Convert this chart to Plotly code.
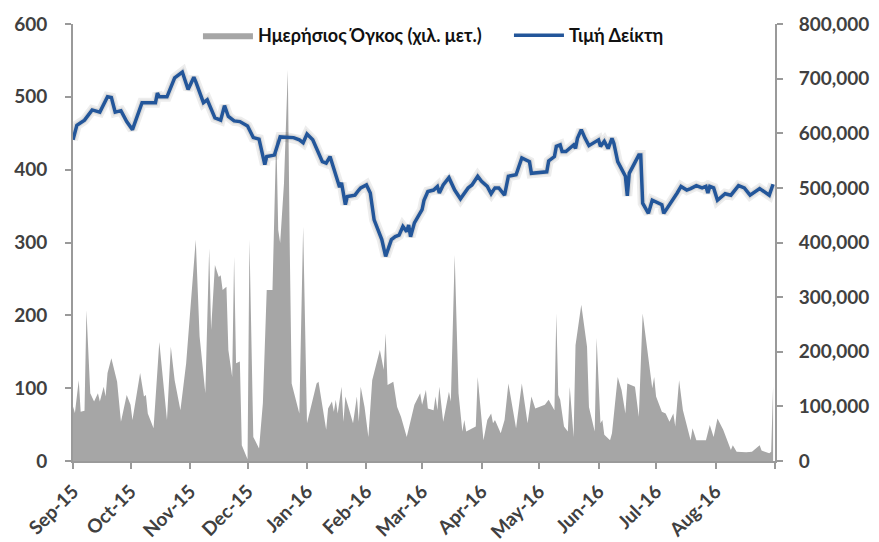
import plotly.graph_objects as go

# ---------------- data ----------------
price_dates = [
    "2015-09-01","2015-09-03","2015-09-07","2015-09-11","2015-09-15","2015-09-19","2015-09-21","2015-09-23",
    "2015-09-26","2015-09-29","2015-10-02","2015-10-07","2015-10-09","2015-10-14","2015-10-15","2015-10-16",
    "2015-10-20","2015-10-24","2015-10-28","2015-10-31","2015-11-03","2015-11-04","2015-11-08","2015-11-10",
    "2015-11-14","2015-11-17","2015-11-19","2015-11-21","2015-11-24","2015-11-27","2015-12-01","2015-12-04",
    "2015-12-07","2015-12-10","2015-12-11","2015-12-15","2015-12-18","2015-12-21","2015-12-25","2015-12-28",
    "2015-12-30","2016-01-01","2016-01-04","2016-01-09","2016-01-11","2016-01-13","2016-01-16","2016-01-18",
    "2016-01-19","2016-01-21","2016-01-22","2016-01-26","2016-01-28","2016-01-29","2016-02-01","2016-02-03",
    "2016-02-05","2016-02-09","2016-02-11","2016-02-14","2016-02-16","2016-02-18","2016-02-20","2016-02-22",
    "2016-02-23","2016-02-24","2016-02-26","2016-02-28","2016-03-01","2016-03-02","2016-03-04","2016-03-07",
    "2016-03-09","2016-03-10","2016-03-12","2016-03-15","2016-03-18","2016-03-21","2016-03-25","2016-03-27",
    "2016-03-30","2016-04-01","2016-04-04","2016-04-06","2016-04-08","2016-04-10","2016-04-13","2016-04-15",
    "2016-04-19","2016-04-22","2016-04-26","2016-04-27","2016-05-05","2016-05-06","2016-05-09","2016-05-10",
    "2016-05-12","2016-05-13","2016-05-15","2016-05-19","2016-05-20","2016-05-21","2016-05-23","2016-05-25",
    "2016-05-27","2016-06-01","2016-06-02","2016-06-04","2016-06-06","2016-06-08","2016-06-09","2016-06-11",
    "2016-06-14","2016-06-15","2016-06-16","2016-06-17","2016-06-22","2016-06-23","2016-06-24","2016-06-27",
    "2016-06-29","2016-07-04","2016-07-05","2016-07-10","2016-07-12","2016-07-14","2016-07-17","2016-07-19",
    "2016-07-22","2016-07-25","2016-07-27","2016-07-28","2016-07-29","2016-07-31","2016-08-02","2016-08-06",
    "2016-08-09","2016-08-13","2016-08-16","2016-08-19","2016-08-24","2016-08-29","2016-08-31",
]
price_values = [
    441, 461, 468, 482, 479, 500, 499, 479,
    481, 466, 455, 492, 492, 492, 505, 500,
    500, 526, 534, 510, 527, 521, 492, 496,
    471, 468, 488, 473, 467, 466, 460, 444,
    442, 407, 418, 420, 445, 445, 444, 441,
    437, 449, 441, 411, 409, 418, 393, 376,
    382, 352, 363, 365, 372, 375, 379, 368,
    331, 304, 281, 304, 308, 310, 322, 315,
    324, 308, 327, 336, 345, 358, 370, 372,
    377, 368, 379, 389, 372, 360, 375, 379,
    391, 384, 377, 367, 375, 375, 365, 391,
    393, 416, 411, 395, 397, 412, 418, 432,
    434, 425, 425, 434, 429, 443, 455, 443,
    433, 441, 432, 439, 429, 443, 436, 411,
    395, 391, 364, 395, 420, 420, 354, 340,
    358, 352, 340, 359, 368, 377, 372, 374,
    378, 375, 377, 368, 377, 375, 358, 367,
    365, 378, 375, 365, 374, 365, 380,
]

volume_dates = [
    "2015-09-01","2015-09-02","2015-09-04","2015-09-05","2015-09-07","2015-09-08","2015-09-10","2015-09-12",
    "2015-09-14","2015-09-15","2015-09-17","2015-09-18","2015-09-19","2015-09-21","2015-09-24","2015-09-26",
    "2015-09-29","2015-10-01","2015-10-02","2015-10-06","2015-10-08","2015-10-09","2015-10-10","2015-10-13",
    "2015-10-16","2015-10-20","2015-10-22","2015-10-24","2015-10-27","2015-10-30","2015-11-04","2015-11-06",
    "2015-11-09","2015-11-11","2015-11-12","2015-11-14","2015-11-16","2015-11-17","2015-11-18","2015-11-20",
    "2015-11-21","2015-11-23","2015-11-24","2015-11-25","2015-11-27","2015-11-28","2015-12-01","2015-12-02",
    "2015-12-04","2015-12-07","2015-12-09","2015-12-11","2015-12-14","2015-12-16","2015-12-17","2015-12-18",
    "2015-12-20","2015-12-22","2015-12-23","2015-12-24","2015-12-28","2015-12-30","2016-01-01","2016-01-06",
    "2016-01-07","2016-01-11","2016-01-12","2016-01-14","2016-01-15","2016-01-16","2016-01-17","2016-01-19",
    "2016-01-20","2016-01-21","2016-01-25","2016-01-27","2016-01-28","2016-01-29","2016-01-31","2016-02-02",
    "2016-02-04","2016-02-08","2016-02-10","2016-02-11","2016-02-12","2016-02-15","2016-02-17","2016-02-19",
    "2016-02-22","2016-02-26","2016-02-29","2016-03-01","2016-03-03","2016-03-04","2016-03-07","2016-03-08",
    "2016-03-09","2016-03-10","2016-03-12","2016-03-14","2016-03-15","2016-03-16","2016-03-18","2016-03-20",
    "2016-03-22","2016-03-23","2016-03-24","2016-03-29","2016-03-30","2016-04-02","2016-04-04","2016-04-06",
    "2016-04-07","2016-04-08","2016-04-11","2016-04-13","2016-04-15","2016-04-19","2016-04-22","2016-04-25",
    "2016-04-27","2016-04-29","2016-05-04","2016-05-06","2016-05-09","2016-05-10","2016-05-11","2016-05-12",
    "2016-05-14","2016-05-16","2016-05-17","2016-05-19","2016-05-20","2016-05-23","2016-05-26","2016-05-27",
    "2016-05-30","2016-05-31","2016-06-02","2016-06-03","2016-06-04","2016-06-07","2016-06-08","2016-06-11",
    "2016-06-13","2016-06-15","2016-06-16","2016-06-20","2016-06-22","2016-06-24","2016-06-27","2016-06-29",
    "2016-06-30","2016-07-01","2016-07-04","2016-07-06","2016-07-08","2016-07-10","2016-07-11","2016-07-13",
    "2016-07-15","2016-07-19","2016-07-20","2016-07-22","2016-07-27","2016-07-29","2016-07-31","2016-08-02",
    "2016-08-05","2016-08-09","2016-08-10","2016-08-12","2016-08-17","2016-08-20","2016-08-24","2016-08-25",
    "2016-08-29","2016-08-30","2016-08-31",
]
volume_thousands = [
    100, 88, 148, 90, 92, 276, 124, 109,
    124, 109, 136, 118, 161, 188, 145, 72,
    121, 103, 75, 161, 118, 121, 87, 60,
    218, 75, 209, 148, 93, 179, 405, 228,
    124, 389, 240, 359, 337, 340, 313, 319,
    203, 154, 374, 179, 182, 29, 3, 405,
    44, 23, 106, 313, 313, 600, 423, 399,
    508, 716, 392, 142, 87, 429, 69, 142,
    145, 57, 96, 109, 90, 112, 87, 136,
    72, 118, 69, 118, 72, 136, 99, 44,
    148, 203, 167, 234, 139, 145, 99, 81,
    44, 103, 124, 103, 130, 96, 93, 118,
    93, 136, 72, 112, 127, 109, 377, 124,
    54, 75, 54, 63, 154, 38, 75, 87,
    69, 75, 51, 75, 142, 60, 142, 69,
    118, 96, 103, 112, 93, 270, 121, 112,
    63, 54, 136, 44, 212, 286, 209, 99,
    54, 225, 69, 75, 48, 38, 51, 154,
    130, 87, 142, 136, 81, 270, 188, 133,
    154, 118, 90, 87, 72, 87, 63, 148,
    93, 38, 60, 38, 38, 66, 44, 78,
    57, 20, 29, 17, 16, 17, 29, 19,
    14, 17, 136,
]
volume_values = [v * 1000 for v in volume_thousands]

month_ticks = ["2015-09-01","2015-10-01","2015-11-01","2015-12-01","2016-01-01","2016-02-01",
               "2016-03-01","2016-04-01","2016-05-01","2016-06-01","2016-07-01","2016-08-01","2016-09-01"]
month_labels = ["Sep-15","Oct-15","Nov-15","Dec-15","Jan-16","Feb-16",
                "Mar-16","Apr-16","May-16","Jun-16","Jul-16","Aug-16",""]

left_ticks = [0, 100, 200, 300, 400, 500, 600]
right_ticks = [0, 100000, 200000, 300000, 400000, 500000, 600000, 700000, 800000]

# ---------------- figure ----------------
FONT = "Lato, 'Open Sans', 'Noto Sans', sans-serif"
AXIS_COLOR = "#9a9a9a"
TEXT_COLOR = "#404040"

fig = go.Figure()

fig.add_trace(go.Scatter(
    x=volume_dates, y=volume_values, name="Ημερήσιος Όγκος (χιλ. μετ.)",
    mode="lines", line=dict(width=0, color="#A6A6A6"),
    fill="tozeroy", fillcolor="#A6A6A6", yaxis="y",
))

# soft shadow under the index line
fig.add_trace(go.Scatter(
    x=price_dates, y=price_values, mode="lines", showlegend=False, hoverinfo="skip",
    line=dict(width=10, color="rgba(0,0,0,0.07)"), yaxis="y2",
))
fig.add_trace(go.Scatter(
    x=price_dates, y=price_values, mode="lines", showlegend=False, hoverinfo="skip",
    line=dict(width=6, color="rgba(0,0,0,0.08)"), yaxis="y2",
))

fig.add_trace(go.Scatter(
    x=price_dates, y=price_values, name="Τιμή Δείκτη",
    mode="lines", line=dict(width=3.5, color="#23569A"), yaxis="y2",
))

fig.update_layout(
    width=879, height=542,
    margin=dict(l=73, r=104, t=24, b=81, autoexpand=False),
    paper_bgcolor="white", plot_bgcolor="white",
    font=dict(family=FONT, color=TEXT_COLOR),
    showlegend=True,
    legend=dict(
        orientation="h", x=0.178, xanchor="left", y=1.016, yanchor="top",
        bgcolor="rgba(0,0,0,0)", font=dict(size=18, color="#111111", weight="bold"),
        itemwidth=50, traceorder="normal", entrywidth=246, entrywidthmode="pixels",
    ),
    xaxis=dict(
        type="date", range=["2015-09-01", "2016-09-01"], automargin=False,
        tickmode="array", tickvals=month_ticks, ticktext=month_labels,
        tickangle=-45, tickfont=dict(size=19, weight="bold", color=TEXT_COLOR),
        showline=True, linecolor=AXIS_COLOR, linewidth=2,
        ticks="outside", ticklen=6, tickcolor=AXIS_COLOR, tickwidth=1.5,
        showgrid=False, zeroline=False, ticklabelstandoff=4,
    ),
    yaxis=dict(
        side="right", range=[0, 800000], tickmode="array", tickvals=right_ticks, automargin=False,
        tickformat=",d", tickfont=dict(size=19, weight="bold", color=TEXT_COLOR),
        showline=True, linecolor=AXIS_COLOR, linewidth=2,
        ticks="outside", ticklen=6, tickcolor=AXIS_COLOR, tickwidth=1.5,
        showgrid=False, zeroline=False, ticklabelstandoff=12,
    ),
    yaxis2=dict(
        overlaying="y", side="left", range=[0, 600], tickmode="array", tickvals=left_ticks, automargin=False,
        tickfont=dict(size=19, weight="bold", color=TEXT_COLOR),
        showline=True, linecolor=AXIS_COLOR, linewidth=2,
        ticks="outside", ticklen=6, tickcolor=AXIS_COLOR, tickwidth=1.5,
        showgrid=False, zeroline=False, ticklabelstandoff=14,
    ),
)

fig.write_html(
    "out.html",
    config={"displayModeBar": False},
    post_script="document.body.style.margin='0';document.body.style.padding='0';",
)
